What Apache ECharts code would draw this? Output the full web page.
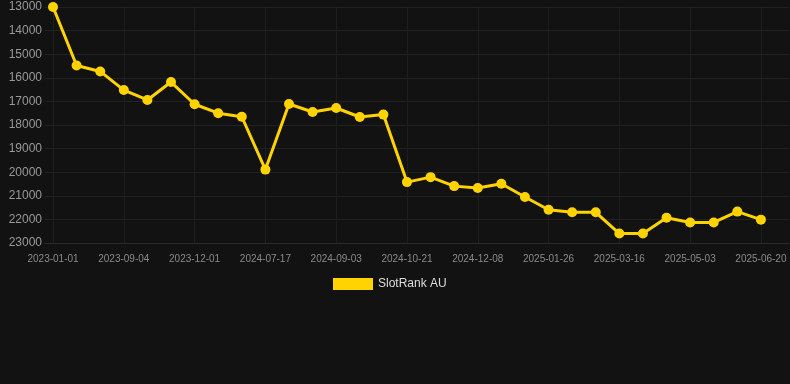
<!DOCTYPE html>
<html>
<head>
<meta charset="utf-8">
<style>
  html, body { margin: 0; padding: 0; background: #121212; }
  #chart { width: 790px; height: 384px; }
</style>
<script src="https://cdn.jsdelivr.net/npm/echarts@6/dist/echarts.min.js"></script>
</head>
<body>
<div id="chart"></div>
<script>
var dates = [
    '2023-01-01', '2023-04-01', '2023-07-01',
    '2023-09-04', '2023-10-01', '2023-11-01',
    '2023-12-01', '2024-03-01', '2024-06-01',
    '2024-07-17', '2024-08-02', '2024-08-18',
    '2024-09-03', '2024-09-19', '2024-10-05',
    '2024-10-21', '2024-11-06', '2024-11-22',
    '2024-12-08', '2024-12-24', '2025-01-09',
    '2025-01-26', '2025-02-11', '2025-02-28',
    '2025-03-16', '2025-04-01', '2025-04-17',
    '2025-05-03', '2025-05-19', '2025-06-04',
    '2025-06-20'
];
var rankValues = [
    13000, 15480, 15730, 16520, 16940, 16180, 17120, 17500, 17650, 19890,
    17110, 17450, 17280, 17660, 17560, 20420, 20210, 20590, 20670, 20490,
    21050, 21590, 21700, 21700, 22600, 22600, 21930, 22130, 22130, 21670,
    22010
];
var labelIndexes = [0, 3, 6, 9, 12, 15, 18, 21, 24, 27, 30];

var points = rankValues.map(function (v, i) { return [i, v]; });

var chart = echarts.init(document.getElementById('chart'));
chart.setOption({
    backgroundColor: '#121212',
    animation: false,
    grid: {
        top: 7,
        left: 45,
        right: 1,
        bottom: 141
    },
    legend: {
        top: 273,
        left: 328,
        itemWidth: 40,
        itemHeight: 12,
        itemGap: 10,
        icon: 'rect',
        textStyle: { color: '#dddddd', fontSize: 12, fontFamily: 'Liberation Sans, Arial' },
        data: ['SlotRank AU']
    },
    xAxis: {
        type: 'value',
        min: -0.34,
        max: 31.19,
        axisLine: { show: true, lineStyle: { color: '#2a2a2a' } },
        axisTick: { show: false, customValues: labelIndexes },
        splitLine: { show: true, lineStyle: { color: '#1e1e1e' } },
        axisLabel: {
            customValues: labelIndexes,
            color: '#8a8a8a',
            fontSize: 10,
            fontFamily: 'Liberation Sans, Arial',
            margin: 11,
            formatter: function (v) { return dates[Math.round(v)]; }
        }
    },
    yAxis: {
        type: 'value',
        inverse: true,
        min: 13000,
        max: 23000,
        interval: 1000,
        axisLine: { show: false },
        axisTick: { show: false },
        axisLabel: {
            color: '#999999',
            fontSize: 12,
            fontFamily: 'Liberation Sans, Arial',
            margin: 3,
            formatter: function (v) { return String(v); }
        },
        splitLine: { lineStyle: { color: '#222222', width: 1 } }
    },
    series: [{
        name: 'SlotRank AU',
        type: 'line',
        data: points,
        color: '#FFD300',
        symbol: 'circle',
        symbolSize: 10,
        lineStyle: { width: 3, color: '#FFD300' },
        itemStyle: { color: '#FFD300' }
    }]
});
</script>
</body>
</html>
